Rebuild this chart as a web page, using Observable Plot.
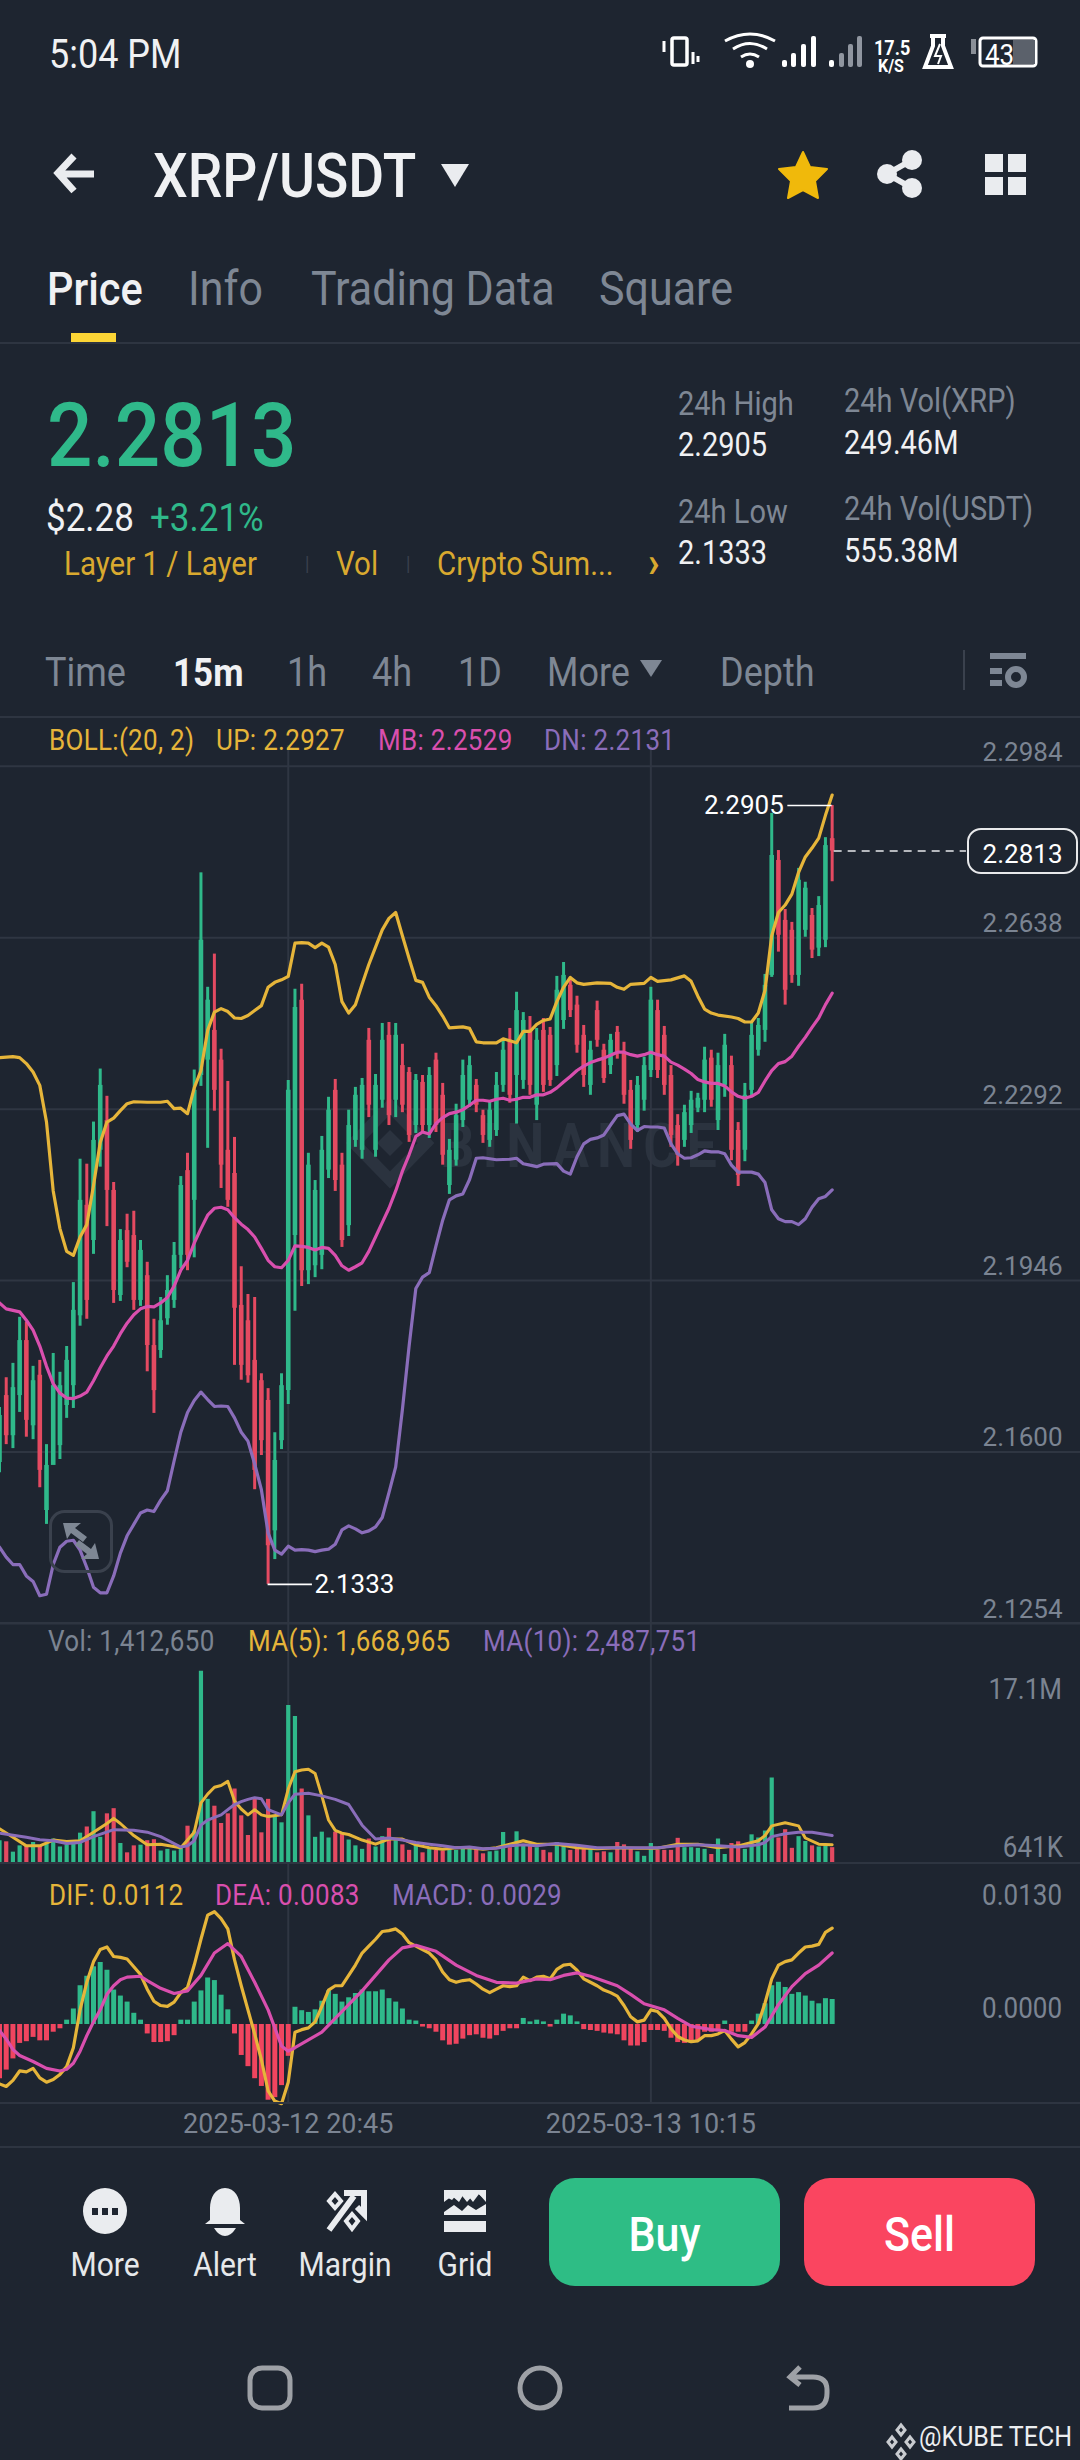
<!DOCTYPE html>
<html><head><meta charset="utf-8">
<script src="https://cdn.jsdelivr.net/npm/d3@7"></script>
<script src="https://cdn.jsdelivr.net/npm/@observablehq/plot@0.6"></script>
<style>
html,body{margin:0;padding:0;background:#1e2530;width:1080px;height:2460px;overflow:hidden;font-family:Roboto,"Noto Sans",sans-serif}
#root{position:relative;width:1080px;height:2460px;overflow:hidden}
.t{position:absolute;white-space:nowrap;transform:translateY(-50%) scaleY(1.12);transform-origin:left center;line-height:1}
.p{position:absolute;left:0}
.hr{position:absolute;left:0;width:1080px;height:2px;background:#2e3541}
svg.ic{position:absolute;overflow:visible}
</style></head><body><div id="root"></div>
<script>
// ---- candles (15m XRP/USDT) ----
const direction = "GRGGRGRGGG"+"GGGRGGRRGR"+"RGRRGGGGRG"+"GGRRRRRRRR"+"RGGGGRGGGG"+"RRGGGRGGRG"+"RRGRGRRGGG"+"GRRGGGRGGR"+"GRRGGRRRGR"+"RGRRRGGGRR"+"RRGGGGRGGR"+"RGGGGGRRRG"+"GRGGR";
const high = [2.1690,2.1750,2.1779,2.1872,2.1862,2.1773,2.1785,2.1615,2.1799,2.1761,2.1813,2.1942,2.2191,2.2181,2.2266,2.2373,2.2318,2.2144,2.2049,2.2080,2.2086,2.2027,2.1983,2.1868,2.1912,2.1956,2.2023,2.2156,2.2203,2.2371,
2.2769,2.2538,2.2605,2.2413,2.2348,2.2235,2.1974,2.1918,2.1912,2.1758,2.1728,2.1639,2.1758,2.2350,2.2534,2.2544,2.2203,2.2148,2.2237,2.2316,
2.2352,2.2203,2.2290,2.2336,2.2354,2.2455,2.2362,2.2465,2.2467,2.2465,2.2423,2.2376,2.2362,2.2360,2.2376,2.2405,2.2344,2.2231,2.2302,2.2391,
2.2399,2.2352,2.2290,2.2306,2.2366,2.2431,2.2455,2.2528,2.2487,2.2479,2.2455,2.2475,2.2457,2.2560,2.2588,2.2558,2.2520,2.2461,2.2429,2.2510,
2.2423,2.2443,2.2459,2.2427,2.2350,2.2358,2.2397,2.2538,2.2512,2.2459,2.2380,2.2281,2.2300,2.2328,2.2324,2.2417,2.2411,2.2405,2.2443,2.2399,
2.2265,2.2344,2.2467,2.2475,2.2564,2.2889,2.2814,2.2695,2.2669,2.2778,2.2750,2.2697,2.2721,2.2840,2.2905];
const low = [2.1558,2.1615,2.1607,2.1680,2.1630,2.1625,2.1528,2.1454,2.1591,2.1585,2.1668,2.1688,2.1854,2.1868,2.1999,2.2175,2.2055,2.1900,2.1904,2.1972,2.1886,2.1894,2.1762,2.1678,2.1789,2.1856,2.1890,2.1970,2.1966,2.1992,
2.2338,2.2213,2.2288,2.2132,2.2094,2.1775,2.1745,2.1739,2.1524,2.1593,2.1333,2.1383,2.1605,2.1696,2.1884,2.1934,2.1938,2.1952,2.1968,2.2152,
2.2126,2.2013,2.2035,2.2215,2.2191,2.2275,2.2195,2.2294,2.2259,2.2275,2.2285,2.2225,2.2243,2.2243,2.2233,2.2245,2.2179,2.2120,2.2177,2.2255,
2.2296,2.2285,2.2223,2.2215,2.2237,2.2326,2.2304,2.2262,2.2332,2.2320,2.2269,2.2326,2.2338,2.2358,2.2453,2.2477,2.2405,2.2336,2.2320,2.2417,
2.2344,2.2362,2.2393,2.2302,2.2211,2.2245,2.2288,2.2356,2.2354,2.2320,2.2215,2.2177,2.2215,2.2243,2.2285,2.2285,2.2296,2.2249,2.2316,2.2188,
2.2136,2.2186,2.2316,2.2399,2.2427,2.2558,2.2609,2.2502,2.2546,2.2540,2.2639,2.2596,2.2600,2.2618,2.2751];
const bodyTop = [2.1674,2.1714,2.1730,2.1825,2.1825,2.1744,2.1755,2.1573,2.1734,2.1734,2.1785,2.1886,2.2108,2.2098,2.2229,2.2340,2.2269,2.2128,2.2027,2.2047,2.2037,2.2007,2.1956,2.1815,2.1865,2.1926,2.1997,2.2138,2.2168,2.2330,
2.2633,2.2512,2.2451,2.2391,2.2209,2.2162,2.1896,2.1865,2.1785,2.1744,2.1704,2.1583,2.1734,2.2330,2.2497,2.2512,2.2179,2.2128,2.2209,2.2290,
2.2330,2.2179,2.2259,2.2320,2.2340,2.2431,2.2340,2.2431,2.2441,2.2441,2.2380,2.2366,2.2350,2.2346,2.2360,2.2391,2.2320,2.2209,2.2279,2.2360,
2.2380,2.2340,2.2279,2.2290,2.2340,2.2411,2.2431,2.2491,2.2471,2.2451,2.2431,2.2451,2.2441,2.2532,2.2562,2.2542,2.2502,2.2441,2.2411,2.2491,
2.2411,2.2431,2.2447,2.2407,2.2330,2.2340,2.2380,2.2512,2.2491,2.2441,2.2360,2.2259,2.2285,2.2310,2.2314,2.2391,2.2395,2.2380,2.2421,2.2380,
2.2249,2.2320,2.2441,2.2461,2.2542,2.2804,2.2794,2.2673,2.2653,2.2754,2.2738,2.2683,2.2703,2.2824,2.2838];
const bodyBottom = [2.1579,2.1633,2.1633,2.1714,2.1664,2.1653,2.1563,2.1482,2.1573,2.1613,2.1694,2.1734,2.1875,2.1906,2.2027,2.2209,2.2128,2.1926,2.1916,2.1983,2.1906,2.1906,2.1815,2.1724,2.1805,2.1869,2.1906,2.1997,2.1997,2.2108,
2.2360,2.2391,2.2330,2.2179,2.2108,2.1890,2.1775,2.1754,2.1563,2.1623,2.1411,2.1441,2.1623,2.1724,2.2037,2.1966,2.1966,2.1976,2.1997,2.2169,
2.2148,2.2027,2.2057,2.2229,2.2209,2.2300,2.2209,2.2310,2.2279,2.2310,2.2300,2.2239,2.2259,2.2259,2.2259,2.2259,2.2199,2.2138,2.2189,2.2269,
2.2310,2.2300,2.2239,2.2229,2.2249,2.2340,2.2320,2.2360,2.2350,2.2340,2.2300,2.2340,2.2350,2.2380,2.2471,2.2491,2.2421,2.2360,2.2340,2.2431,
2.2354,2.2380,2.2407,2.2320,2.2229,2.2259,2.2310,2.2370,2.2370,2.2340,2.2239,2.2199,2.2229,2.2259,2.2294,2.2310,2.2310,2.2269,2.2340,2.2209,
2.2158,2.2209,2.2330,2.2411,2.2451,2.2562,2.2643,2.2532,2.2562,2.2562,2.2653,2.2613,2.2617,2.2633,2.2813];
// ---- Bollinger bands: [candle index], [price] ----
const upIdx = [0,...d3.range(2,21),22,...d3.range(24,73),...d3.range(74,88),89,91,92,93,94,...d3.range(96,99),100,...d3.range(102,108),...d3.range(109,125)];
const upVal = [2.2396,2.2398,2.2396,2.2384,2.2367,2.2340,2.2266,2.2127,2.2051,2.2005,2.1997,2.2034,2.2059,2.2138,2.2225,2.2266,2.2274,2.2289,2.2303,2.2307,2.2306,2.2306,2.2308,2.2293,2.2294,2.2283,2.2335,2.2370,2.2451,2.2488,2.2495,2.2489,2.2476,2.2475,2.2481,2.2491,2.2501,2.2538,2.2548,2.2553,2.2560,2.2627,2.2628,2.2627,2.2618,2.2627,2.2619,2.2584,2.2509,2.2486,2.2503,2.2544,2.2584,2.2619,2.2654,2.2677,2.2689,2.2642,2.2596,2.2552,2.2548,2.2518,2.2501,2.2480,2.2456,2.2457,2.2458,2.2455,2.2428,2.2426,2.2426,2.2434,2.2430,2.2426,2.2449,2.2449,2.2463,
2.2471,2.2474,2.2509,2.2538,2.2558,2.2547,2.2544,2.2547,2.2546,2.2538,2.2534,2.2544,2.2546,2.2558,2.2550,2.2553,2.2561,2.2550,2.2520,2.2494,2.2486,2.2482,2.2478,2.2475,2.2468,2.2468,2.2486,2.2532,2.2642,2.2689,2.2704,2.2726,2.2770,2.2801,2.2819,2.2839,2.2885,2.2926];
const mbVal = [2.1901,2.1889,2.1886,2.1883,2.1866,2.1846,2.1814,2.1773,2.1738,2.1719,2.1709,2.1708,2.1713,2.1721,2.1744,2.1770,2.1794,2.1814,2.1839,2.1860,2.1877,2.1889,2.1894,2.1893,2.1901,2.1912,2.1935,2.1967,2.1987,2.2022,2.2051,2.2078,2.2092,2.2094,2.2089,2.2073,2.2060,2.2049,2.2034,2.2011,2.1987,2.1974,2.1972,2.1987,2.2016,2.2015,2.2013,2.2008,2.2013,2.2011,2.1997,2.1976,2.1967,2.1974,2.1982,2.2005,2.2034,2.2063,2.2092,2.2127,2.2167,2.2200,2.2237,2.2246,2.2242,2.2263,2.2275,2.2283,2.2286,2.2291,2.2300,2.2310,2.2310,2.2308,2.2312,2.2314,2.2310,2.2312,2.2316,2.2316,2.2321,
2.2321,2.2326,2.2335,2.2347,2.2358,2.2370,2.2379,2.2386,2.2391,2.2395,2.2401,2.2407,2.2407,2.2402,2.2399,2.2402,2.2407,2.2402,2.2399,2.2387,2.2381,2.2373,2.2364,2.2352,2.2347,2.2344,2.2344,2.2339,2.2327,2.2318,2.2314,2.2318,2.2326,2.2349,2.2370,2.2384,2.2388,2.2399,2.2419,2.2437,2.2457,2.2476,2.2503,2.2526];
const dnIdx = [...d3.range(0,73),74,76,77,78,79,80,81,...d3.range(83,125)];
const dnVal = [2.1408,2.1388,2.1373,2.1373,2.1350,2.1339,2.1310,2.1313,2.1373,2.1408,2.1420,2.1422,2.1402,2.1367,2.1327,2.1316,2.1316,2.1350,2.1396,2.1431,2.1454,2.1477,2.1483,2.1480,2.1503,2.1522,2.1582,2.1640,2.1680,2.1704,2.1721,2.1706,2.1692,2.1693,2.1692,2.1669,2.1640,2.1622,2.1576,2.1524,2.1437,2.1402,2.1394,2.1410,2.1402,2.1403,2.1402,2.1399,2.1402,2.1404,2.1414,2.1443,2.1451,2.1445,2.1437,2.1441,2.1449,2.1468,2.1518,2.1570,2.1686,2.1814,2.1930,2.1953,2.1962,2.2016,2.2068,2.2109,2.2117,2.2121,2.2150,2.2193,2.2194,2.2190,2.2191,2.2193,2.2182,2.2179,2.2176,
2.2181,2.2182,2.2167,2.2161,2.2196,2.2222,2.2231,2.2234,2.2240,2.2260,2.2279,2.2282,2.2262,2.2249,2.2257,2.2256,2.2256,2.2254,2.2222,2.2202,2.2193,2.2194,2.2200,2.2208,2.2206,2.2206,2.2202,2.2179,2.2165,2.2165,2.2165,2.2161,2.2144,2.2089,2.2071,2.2065,2.2065,2.2059,2.2071,2.2094,2.2111,2.2116,2.2129];
// ---- volume, millions ----
const volume = [2.03,1.93,1.01,1.57,1.57,1.87,1.57,1.78,2.18,1.47,1.66,1.72,2.70,3.25,4.61,2.33,4.42,4.88,1.78,0.95,1.57,1.63,2.03,2.12,1.11,1.26,1.11,1.41,3.32,2.89,17.1,5.71,5.10,3.56,4.42,6.63,4.24,2.49,5.71,2.73,5.71,4.18,3.62,14.06,13.08,6.63,4.24,2.33,2.79,2.27,2.79,2.58,2.09,1.57,1.26,2.18,1.47,2.39,3.13,2.03,1.66,1.17,1.66,0.95,1.26,1.17,1.11,1.26,1.17,1.26,1.41,1.26,0.86,1.04,1.11,2.76,1.41,2.82,1.57,1.72,1.41,1.17,0.95,1.87,1.57,1.17,1.26,1.26,1.35,0.95,1.04,0.95,1.87,1.66,1.26,1.04,0.64,1.78,1.17,1.17,1.17,2.24,1.41,1.41,1.35,1.26,0.80,2.18,0.80,1.78,1.93,1.26,2.55,2.27,2.89,7.61,2.27,3.01,1.35,2.39,1.96,1.57,1.47,1.66,1.41];
const ma5Idx = [0,2,4,6,8,10,12,14,16,17,18,20,22,24,27,29,30,31,32,33,34,35,36,37,38,39,40,42,43,44,45,46,47,48,49,50,51,52,54,56,58,60,62,64,66,68,70,72,74,76,78,80,83,86,89,92,95,98,101,104,107,110,113,114,115,117,119,120,122,124];
const ma5Val = [3.10,2.33,1.57,1.57,2.09,1.96,2.03,2.79,3.56,4.02,3.56,2.49,1.66,1.72,1.41,2.79,5.40,6.17,6.78,6.94,7.31,5.56,4.85,4.33,4.79,4.33,4.18,4.33,6.63,8.17,8.32,8.38,8.01,6.02,3.87,2.95,2.70,2.58,2.09,1.72,2.18,2.18,1.66,1.41,1.26,1.41,1.41,1.26,1.41,1.72,2.03,1.72,1.72,1.41,1.32,1.41,1.35,1.35,1.72,1.72,1.41,1.57,2.03,2.49,3.35,3.62,3.35,2.27,1.72,1.67];
const ma10Idx = [0,4,6,8,10,12,14,17,20,22,24,27,28,29,30,31,32,33,34,35,36,37,38,39,40,42,43,44,46,48,50,52,54,56,58,60,62,64,66,68,70,72,74,76,78,80,83,86,89,92,95,98,101,104,107,110,113,114,115,117,119,121,124];
const ma10Val = [2.70,2.33,2.12,2.03,1.78,1.87,2.39,3.01,2.95,2.79,2.39,1.47,1.57,2.03,3.41,3.87,4.11,4.33,4.79,5.25,5.50,5.71,5.86,5.77,4.79,4.33,5.40,6.17,6.26,6.02,5.71,5.25,3.41,2.18,2.27,2.09,1.87,1.72,1.57,1.41,1.47,1.32,1.35,1.57,1.66,1.57,1.78,1.63,1.41,1.41,1.41,1.41,1.57,1.66,1.57,1.47,1.66,1.87,2.39,2.64,2.79,2.79,2.49];
// ---- MACD ----
const macd = [-.0063,-.0053,-.0040,-.0022,-.0020,-.0015,-.0019,-.0019,-.0009,-.0005,.0005,.0018,.0045,.0056,.0067,.0072,.0063,.0040,.0033,.0026,.0013,.0005,-.0011,-.0021,-.0021,-.0020,-.0013,.0005,.0005,.0026,.0039,.0054,.0051,.0034,.0017,-.0011,-.0036,-.0049,-.0063,-.0072,-.0088,-.0085,-.0071,-.0037,.0020,.0016,.0014,.0017,.0027,.0039,.0035,.0026,.0031,.0036,.0040,.0038,.0038,.0040,.0030,.0026,.0018,.0005,.0004,-.0003,-.0005,-.0009,-.0019,-.0024,-.0023,-.0017,-.0013,-.0012,-.0016,-.0017,-.0013,-.0008,-.0005,-.0005,.0007,.0003,.0005,.0003,-.0003,.0005,.0012,.0010,.0003,-.0006,-.0007,-.0008,-.0010,-.0011,-.0012,-.0019,-.0025,-.0025,-.0021,-.0007,-.0007,-.0008,-.0016,-.0021,-.0022,-.0020,-.0019,-.0009,-.0009,-.0007,.0004,-.0009,-.0009,-.0009,.0004,.0012,.0024,.0045,.0049,.0043,.0035,.0037,.0033,.0027,.0024,.0030,.0029];
const dif = [-.0069,-.0072,-.0065,-.0054,-.0055,-.0051,-.0062,-.0067,-.0064,-.0058,-.0049,-.0027,.0017,.0049,.0073,.0087,.0090,.0079,.0078,.0076,.0067,.0058,.0041,.0027,.0022,.0021,.0026,.0037,.0043,.0069,.0099,.0127,.0131,.0123,.0111,.0075,.0045,.0017,-.0011,-.0041,-.0077,-.0089,-.0092,-.0067,-.0009,-.0006,-.0004,.0003,.0021,.0040,.0045,.0045,.0057,.0069,.0083,.0091,.0099,.0108,.0109,.0111,.0105,.0095,.0091,.0087,.0083,.0075,.0061,.0052,.0049,.0051,.0052,.0047,.0041,.0037,.0041,.0045,.0044,.0045,.0055,.0051,.0055,
.0056,.0053,.0064,.0069,.0070,.0063,.0053,.0049,.0045,.0040,.0037,.0033,.0022,.0009,.0003,.0005,.0017,.0015,.0007,-.0005,-.0014,-.0018,-.0020,-.0019,-.0013,-.0013,-.0011,-.0007,-.0017,-.0026,-.0021,-.0011,.0001,.0025,.0053,.0069,.0073,.0075,.0083,.0090,.0091,.0093,.0107,.0112];
const deaIdx = [0,1,2,3,5,7,9,10,11,12,13,14,15,16,17,18,19,21,22,24,26,28,30,32,34,36,38,40,42,43,44,46,48,50,52,54,56,58,60,62,65,68,71,74,77,80,82,84,86,88,92,94,96,99,101,103,106,108,110,112,114,116,118,120,122,124];
const deaVal = [-.0007,-.0017,-.0029,-.0036,-.0043,-.0051,-.0054,-.0052,-.0045,-.0031,-.0013,.0003,.0017,.0035,.0045,.0052,.0055,.0056,.0051,.0042,.0036,.0039,.0057,.0083,.0094,.0079,.0049,.0017,-.0025,-.0031,-.0027,-.0018,-.0009,.0007,.0023,.0039,.0057,.0075,.0089,.0092,.0085,.0069,.0057,.0049,.0048,.0053,.0052,.0057,.0060,.0056,.0045,.0035,.0024,.0017,.0007,-.0002,-.0006,-.0007,-.0013,-.0015,-.0003,.0023,.0044,.0059,.0069,.0083];
// ---- axes ----
const priceTicks = [2.2984,2.2638,2.2292,2.1946,2.1600,2.1254];
const dateIdx = [43,97];
const dateLabels = ["2025-03-12 20:45","2025-03-13 10:15"];
const lastPrice = 2.2813, dayHigh = 2.2905, dayLow = 2.1333;

const N = high.length;
const GREEN="#2fb98a", RED="#e44a61", YEL="#e6b53a", PINK="#d94fae", PUR="#8a6dba", GRID="#2f3642", AX="#7b8492";
const candles = d3.range(N).map(i=>({i,high:high[i],low:low[i],top:bodyTop[i],bot:bodyBottom[i],vol:volume[i],macd:macd[i],dif:dif[i],mb:mbVal[i],dir:direction[i]}));
const pairs=(a,b)=>a.map((x,k)=>({i:x,v:b[k]}));
const xScale={domain:[1/6.715,1081/6.715],range:[0,1080]};
const root=document.getElementById("root");
const base=(h,dom,mb=0)=>({width:1080,height:h,marginTop:0,marginBottom:mb,marginLeft:0,marginRight:0,x:{...xScale,axis:null},y:{domain:dom,axis:null},style:{background:"transparent",overflow:"visible"}});
const vgrid=Plot.ruleX(dateIdx,{stroke:GRID,strokeWidth:2});

function place(plot,top){plot.style.position="absolute";plot.style.left="0";plot.style.top=top+"px";plot.style.overflow="visible";root.appendChild(plot);}

function T(s,x,y,size,color,extra={}){const d=document.createElement("div");d.className="t";d.textContent=s;d.style.cssText+=`left:${x}px;top:${y}px;font-size:${size}px;color:${color};`;Object.assign(d.style,extra);root.appendChild(d);return d;}
function TR(s,xr,y,size,color,extra={}){const d=T(s,0,y,size,color,extra);d.style.left="auto";d.style.right=(1080-xr)+"px";d.style.transformOrigin="right center";return d;}
function TC(s,xc,y,size,color,extra={}){const d=T(s,xc,y,size,color,extra);d.style.transform="translate(-50%,-50%) scaleY(1.12)";d.style.transformOrigin="center center";return d;}
function SVG(x,y,w,h,inner,vb){const wrap=document.createElement("div");wrap.innerHTML=`<svg class="ic" style="left:${x}px;top:${y}px" width="${w}" height="${h}" viewBox="${vb||`0 0 ${w} ${h}`}">${inner}</svg>`;const s=wrap.firstChild;root.appendChild(s);return s;}
function HR(y){const d=document.createElement("div");d.className="hr";d.style.top=(y-1)+"px";root.appendChild(d);}

// ---- header ----
const W="#f0f1f3",G2="#7e8794",Y2="#d9a92f";
T("5:04 PM",49,55,36,W);
// status icons
SVG(655,30,400,52,`
<g fill="none" stroke="#fff" stroke-width="3">
<rect x="17" y="8" width="15" height="27" rx="2" stroke-width="3.5"/><path d="M9 11v11M38 22v12M43 26v6"/>
<path d="M70 11q25-14 50 0M78 19q17-11 34 0M86 27q9-6 18 0"/></g>
<circle cx="95" cy="34" r="4" fill="#fff"/>
<g fill="#fff"><rect x="127" y="30" width="5" height="7" rx="2"/><rect x="136" y="23" width="5" height="14" rx="2"/><rect x="146" y="14" width="5" height="23" rx="2"/><rect x="156" y="6" width="5" height="31" rx="2"/></g>
<g fill="#9096a0"><rect x="174" y="30" width="5" height="7" rx="2" fill="#fff"/><rect x="184" y="23" width="5" height="14" rx="2"/><rect x="193" y="14" width="5" height="23" rx="2"/><rect x="202" y="6" width="5" height="31" rx="2"/></g>
<path d="M275 6h16M278 6v10l-8 21h26l-8-21v-10" fill="none" stroke="#fff" stroke-width="4"/>
<path d="M285 14l-5 12h6l-3 8" stroke="#fff" stroke-width="2" fill="none"/>
<rect x="316" y="9" width="5" height="15" fill="#8a8f97"/>
<rect x="325" y="8" width="56" height="28" rx="3" fill="none" stroke="#fff" stroke-width="3"/><rect x="358" y="10" width="22" height="24" fill="#5b616b"/>`);
T("17.5",874,48,18,"#fff",{fontWeight:"700"});T("K/S",878,66,16,"#fff",{fontWeight:"700"});
T("43",985,55,26,"#fff");
// nav row
SVG(50,148,50,50,`<path d="M44 26H10M24 8L8 25l16 18" fill="none" stroke="#eaecef" stroke-width="7"/>`);
T("XRP/USDT",153,176,55,W,{fontWeight:"500"});
SVG(440,162,30,26,`<path d="M1 2h28L15 25z" fill="#eaecef"/>`);
SVG(778,150,50,50,`<path d="M25 2l7 15 17 2-12 12 3 17-15-8-15 8 3-17L1 19l17-2z" fill="#f0b90b" stroke="#f0b90b" stroke-width="2" stroke-linejoin="round"/>`);
SVG(876,150,48,48,`<g fill="#eaecef"><circle cx="11" cy="24" r="10"/><circle cx="36" cy="10" r="10"/><circle cx="36" cy="38" r="10"/></g><path d="M11 24L36 10M11 24l25 14" stroke="#eaecef" stroke-width="6"/>`);
SVG(985,154,41,41,`<g fill="#eaecef"><rect width="18" height="18"/><rect x="23" width="18" height="18"/><rect y="23" width="18" height="18"/><rect x="23" y="23" width="18" height="18"/></g>`);
T("Price",47,289,41.5,W,{fontWeight:"500"});
T("Info",188,289,43,G2);T("Trading Data",311,289,43,G2);T("Square",599,289,43,G2);
const ul=document.createElement("div");ul.style.cssText="position:absolute;left:71px;top:333px;width:45px;height:10px;background:#fcd535";root.appendChild(ul);
HR(343);
T("2.2813",47,436,80,GREEN,{fontWeight:"500"});
T("$2.28",46,518,35,W);T("+3.21%",150,518,35,GREEN);
T("Layer 1 / Layer",64,565,29.5,Y2);T("Vol",336,565,29.5,Y2);T("Crypto Sum...",437,565,29.5,Y2);T("›",648,562,38,Y2,{fontWeight:"700"});
T("|",305,564,18,"#3a414d");T("|",406,564,18,"#3a414d");
T("24h High",678,404,29,G2);T("2.2905",678,445,29,W);T("24h Low",678,512,29,G2);T("2.1333",678,553,29,W);
T("24h Vol(XRP)",844,401,29,G2);T("249.46M",844,443,29,W);T("24h Vol(USDT)",844,509,29,G2);T("555.38M",844,551,29,W);
T("Time",45,673,36,G2);T("15m",173,673,35,W,{fontWeight:"700"});T("1h",287,673,36,G2);T("4h",372,673,36,G2);T("1D",458,673,36,G2);T("More",547,673,36,G2);
SVG(640,660,22,17,`<path d="M0 0h22L11 17z" fill="#7e8794"/>`);
T("Depth",720,673,36,G2);
SVG(963,650,66,42,`<path d="M1 0v40" stroke="#3a414d" stroke-width="2"/><g fill="#7e8794"><rect x="27" y="3" width="36" height="6"/><rect x="27" y="18" width="12" height="6"/><rect x="27" y="30" width="12" height="6"/></g><circle cx="53" cy="27" r="8" fill="none" stroke="#7e8794" stroke-width="6"/>`);
HR(717);

// BINANCE watermark under marks
SVG(348,1100,84,86,`<g fill="none" stroke="#2b333f" stroke-width="12"><path d="M42 6l36 37-36 37L6 43z"/></g><path d="M42 30l13 13-13 13-13-13z" fill="#2b333f"/>`);
T("BINANCE",440,1147,54,"#2b333f",{fontWeight:"700",letterSpacing:"8px"});

// ---- price panel ----
const upRows=pairs(upIdx,upVal), dnRows=pairs(dnIdx,dnVal);
const ax=(arr)=>Plot.text(arr,{text:d=>d3.format(".4f")(d),y:d=>d,frameAnchor:"right",textAnchor:"end",dx:-18,dy:-14,fill:AX,fontSize:26,fontFamily:"Roboto"});
place(Plot.plot({...base(878,[2.1254,2.3026]),marks:[
  Plot.ruleY(priceTicks,{stroke:GRID,strokeWidth:2}),
  vgrid,
  Plot.ruleX(candles.filter(d=>d.dir==="G"),{x:"i",y1:"low",y2:"high",stroke:GREEN,strokeWidth:3}),
  Plot.ruleX(candles.filter(d=>d.dir==="R"),{x:"i",y1:"low",y2:"high",stroke:RED,strokeWidth:3}),
  Plot.ruleX(candles.filter(d=>d.dir==="G"),{x:"i",y1:"bot",y2:"top",stroke:GREEN,strokeWidth:4.6}),
  Plot.ruleX(candles.filter(d=>d.dir==="R"),{x:"i",y1:"bot",y2:"top",stroke:RED,strokeWidth:4.6}),
  Plot.line(upRows,{x:"i",y:"v",stroke:YEL,strokeWidth:3.2}),
  Plot.line(candles,{x:"i",y:"mb",stroke:PINK,strokeWidth:3.2}),
  Plot.line(dnRows,{x:"i",y:"v",stroke:PUR,strokeWidth:3.2}),
  ax(priceTicks),
  Plot.ruleY([dayHigh],{x1:117.4,x2:124,stroke:"#fff",strokeWidth:1.6}),
  Plot.text([dayHigh],{x:116.8,y:d=>d,text:d=>d3.format(".4f")(d),textAnchor:"end",fill:"#fff",fontSize:26,fontFamily:"Roboto"}),
  Plot.ruleY([dayLow],{x1:40,x2:46.6,stroke:"#fff",strokeWidth:1.6}),
  Plot.text([dayLow],{x:46.9,y:d=>d,text:d=>d3.format(".4f")(d),textAnchor:"start",fill:"#fff",fontSize:26,fontFamily:"Roboto"}),
  Plot.ruleY([lastPrice],{x1:124.3,x2:144,stroke:"#e8e9eb",strokeWidth:1.6,strokeDasharray:"8 6"}),
  Plot.text([lastPrice],{y:d=>d,text:d=>d3.format(".4f")(d),frameAnchor:"right",textAnchor:"end",dx:-18,dy:4,fill:"#fff",fontSize:26,fontFamily:"Roboto"})
]}),745);
// last-price pill
const pill=document.createElement("div");pill.style.cssText="position:absolute;left:967px;top:828px;width:111px;height:46px;border:2px solid #e8e9eb;border-radius:14px;box-sizing:border-box";root.appendChild(pill);

// legends
const LG=26, LS={letterSpacing:"0.3px"};
T("BOLL:(20, 2)",49,740,LG,YEL,LS);T("UP: 2.2927",216,740,LG,YEL,LS);T("MB: 2.2529",378,740,LG,PINK,LS);T("DN: 2.2131",544,740,LG,PUR,LS);

// expand button
SVG(49,1510,64,63,`<rect x="1.5" y="1.5" width="61" height="60" rx="14" fill="none" stroke="#3a414d" stroke-width="3"/><g fill="#7e8794"><path d="M14 13h18l-6 5 12 9-4 5-12-9-4 6z"/><path d="M50 49H32l6-5-12-9 4-5 12 9 4-6z"/></g>`);

HR(1623);
// ---- volume panel ----
place(Plot.plot({...base(240,[0,21.36]),marks:[
  vgrid,
  Plot.ruleX(candles.filter(d=>d.dir==="G"),{x:"i",y1:0,y2:"vol",stroke:GREEN,strokeWidth:4.2}),
  Plot.ruleX(candles.filter(d=>d.dir==="R"),{x:"i",y1:0,y2:"vol",stroke:RED,strokeWidth:4.2}),
  Plot.line(pairs(ma5Idx,ma5Val),{x:"i",y:"v",stroke:YEL,strokeWidth:3}),
  Plot.line(pairs(ma10Idx,ma10Val),{x:"i",y:"v",stroke:PUR,strokeWidth:3})
]}),1623);
T("Vol: 1,412,650",48,1641,LG,AX,LS);T("MA(5): 1,668,965",248,1641,LG,YEL,LS);T("MA(10): 2,487,751",483,1641,LG,PUR,LS);
TR("17.1M",1062,1689,26,AX);TR("641K",1063,1847,26,AX);
HR(1863);
// ---- MACD panel ----
place(Plot.plot({...base(284,[-.00918,.0187],44),marks:[
  vgrid,
  Plot.ruleX(candles.filter(d=>d.macd>=0),{x:"i",y1:0,y2:"macd",stroke:GREEN,strokeWidth:5}),
  Plot.ruleX(candles.filter(d=>d.macd<0),{x:"i",y1:0,y2:"macd",stroke:"#f0455f",strokeWidth:5}),
  Plot.line(candles,{x:"i",y:"dif",stroke:YEL,strokeWidth:3.2}),
  Plot.line(pairs(deaIdx,deaVal),{x:"i",y:"v",stroke:PINK,strokeWidth:3.2}),
  Plot.axisX({ticks:dateIdx,tickFormat:d=>dateLabels[dateIdx.indexOf(d)],tickSize:0,tickPadding:10,anchor:"bottom",fontSize:27,color:AX,fontFamily:"Roboto",label:null})
]}),1863);
T("DIF: 0.0112",49,1895,LG,YEL,LS);T("DEA: 0.0083",215,1895,LG,PINK,LS);T("MACD: 0.0029",392,1895,LG,PUR,LS);
TR("0.0130",1062,1895,26,AX);TR("0.0000",1062,2008,26,AX);
HR(2103);HR(2147);

// ---- bottom bar ----
const btn=(x,w,c,s)=>{const d=document.createElement("div");d.style.cssText=`position:absolute;left:${x}px;top:2178px;width:${w}px;height:108px;border-radius:26px;background:${c}`;root.appendChild(d);TC(s,x+w/2,2235,43,"#fff",{fontWeight:"500"});};
btn(549,231,"#2ebd85","Buy");btn(804,231,"#fa4560","Sell");
SVG(83,2188,44,46,`<ellipse cx="22" cy="23" rx="22" ry="23" fill="#eaecef"/><g fill="#1e2530"><rect x="9" y="20" width="6" height="7"/><rect x="19" y="20" width="6" height="7"/><rect x="29" y="20" width="6" height="7"/></g>`);
SVG(204,2188,42,46,`<path d="M21 0c-10 0-15 10-15 20v12L1 36h40l-5-4V20C36 10 31 0 21 0z" fill="#eaecef"/><path d="M10 40h22q-5 8-11 8t-11-8z" fill="#eaecef"/>`);
SVG(324,2190,42,42,`<path d="M5 40L30 6M20 3h20v21l-7-7" fill="none" stroke="#eaecef" stroke-width="6"/><g fill="none" stroke="#eaecef" stroke-width="4"><path d="M11 4l6 7-6 7-6-7zM28 24l6 7-6 8-6-8z"/></g>`);
SVG(444,2190,42,42,`<path d="M0 0h42v25H0z" fill="#eaecef"/><path d="M0 12l8-6 7 6 6-10 8 10 6-8 7 8v13H0z" fill="#1e2530"/><g fill="#eaecef"><path d="M0 0h42v10L32 2l-9 10-8-10-7 8-8-4z"/><path d="M0 22l10-7 8 6 6-6 8 5 10-6v11H0z"/></g><rect y="31" width="42" height="11" fill="#eaecef"/>`);
TC("More",105,2265,30,"#e6e8ea");TC("Alert",225,2265,30,"#e6e8ea");TC("Margin",345,2265,30,"#e6e8ea");TC("Grid",465,2265,30,"#e6e8ea");
// system nav
SVG(247,2365,46,46,`<rect x="3" y="3" width="40" height="40" rx="12" fill="none" stroke="#9ea1a6" stroke-width="5"/>`);
SVG(517,2365,46,46,`<circle cx="23" cy="23" r="20" fill="none" stroke="#9ea1a6" stroke-width="5"/>`);
SVG(786,2365,46,46,`<path d="M3 43h24q14 0 14-15v-3q0-13-14-13H5M14 2L4 12l10 8" fill="none" stroke="#9ea1a6" stroke-width="5"/>`);
// credit
SVG(887,2422,28,40,`<g fill="none" stroke="#c9ccd0" stroke-width="3"><path d="M14 3l4 5-4 5-4-5zM14 27l4 5-4 5-4-5zM5 15l4 5-4 5-4-5zM23 15l4 5-4 5-4-5z"/></g>`);
T("@KUBE TECH",919,2436,25,"#eceef0");
</script></body></html>
